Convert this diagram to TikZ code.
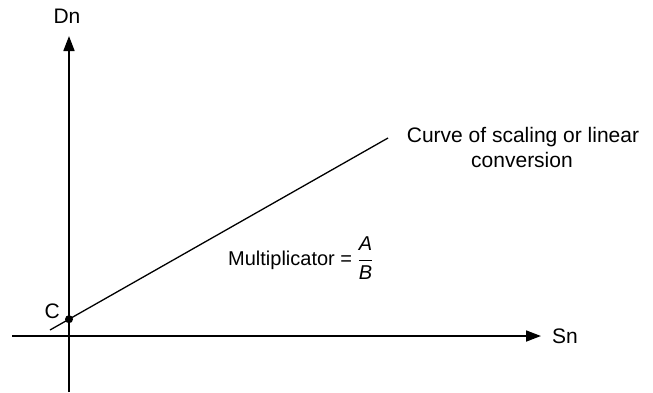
\documentclass[tikz,border=0pt]{standalone}
\usepackage{fontspec}
\setmainfont{Liberation Sans}
\usetikzlibrary{arrows.meta}
\begin{document}
\begin{tikzpicture}[x=1pt,y=-1pt,
  axis/.style={line width=1.7pt,-{Triangle[length=15pt,width=11pt]}},
  lbl/.style={font=\fontsize{21}{25}\selectfont,inner sep=0pt}]
\useasboundingbox (0,0) rectangle (653,392);
\coordinate (xs) at (12,336);
\coordinate (xe) at (541,336);
\coordinate (ys) at (69,392);
\coordinate (ye) at (69,36);
\draw[axis] (xs) -- (xe);
\draw[axis] (ys) -- (ye);
\node[lbl,anchor=base] (dn) at (67,23) {Dn};
\node[lbl,anchor=base west] (sn) at (552,343) {Sn};
\coordinate (l1) at (50,330);
\coordinate (l2) at (388,138);
\draw[line width=1.3pt] (l1) -- (l2);
\fill (69,319.2) circle (4pt);
\node[lbl,anchor=base east] (c) at (60,318) {C};
\node[lbl,anchor=base] (curve1) at (523,142) {Curve of scaling or linear};
\node[lbl,anchor=base] (curve2) at (522,167) {conversion};
\node[lbl,anchor=base west,font=\fontsize{20}{24}\selectfont] (mult) at (228,265) {Multiplicator = $\displaystyle\frac{\textit{A}}{\textit{B}}$};
\end{tikzpicture}
\end{document}
